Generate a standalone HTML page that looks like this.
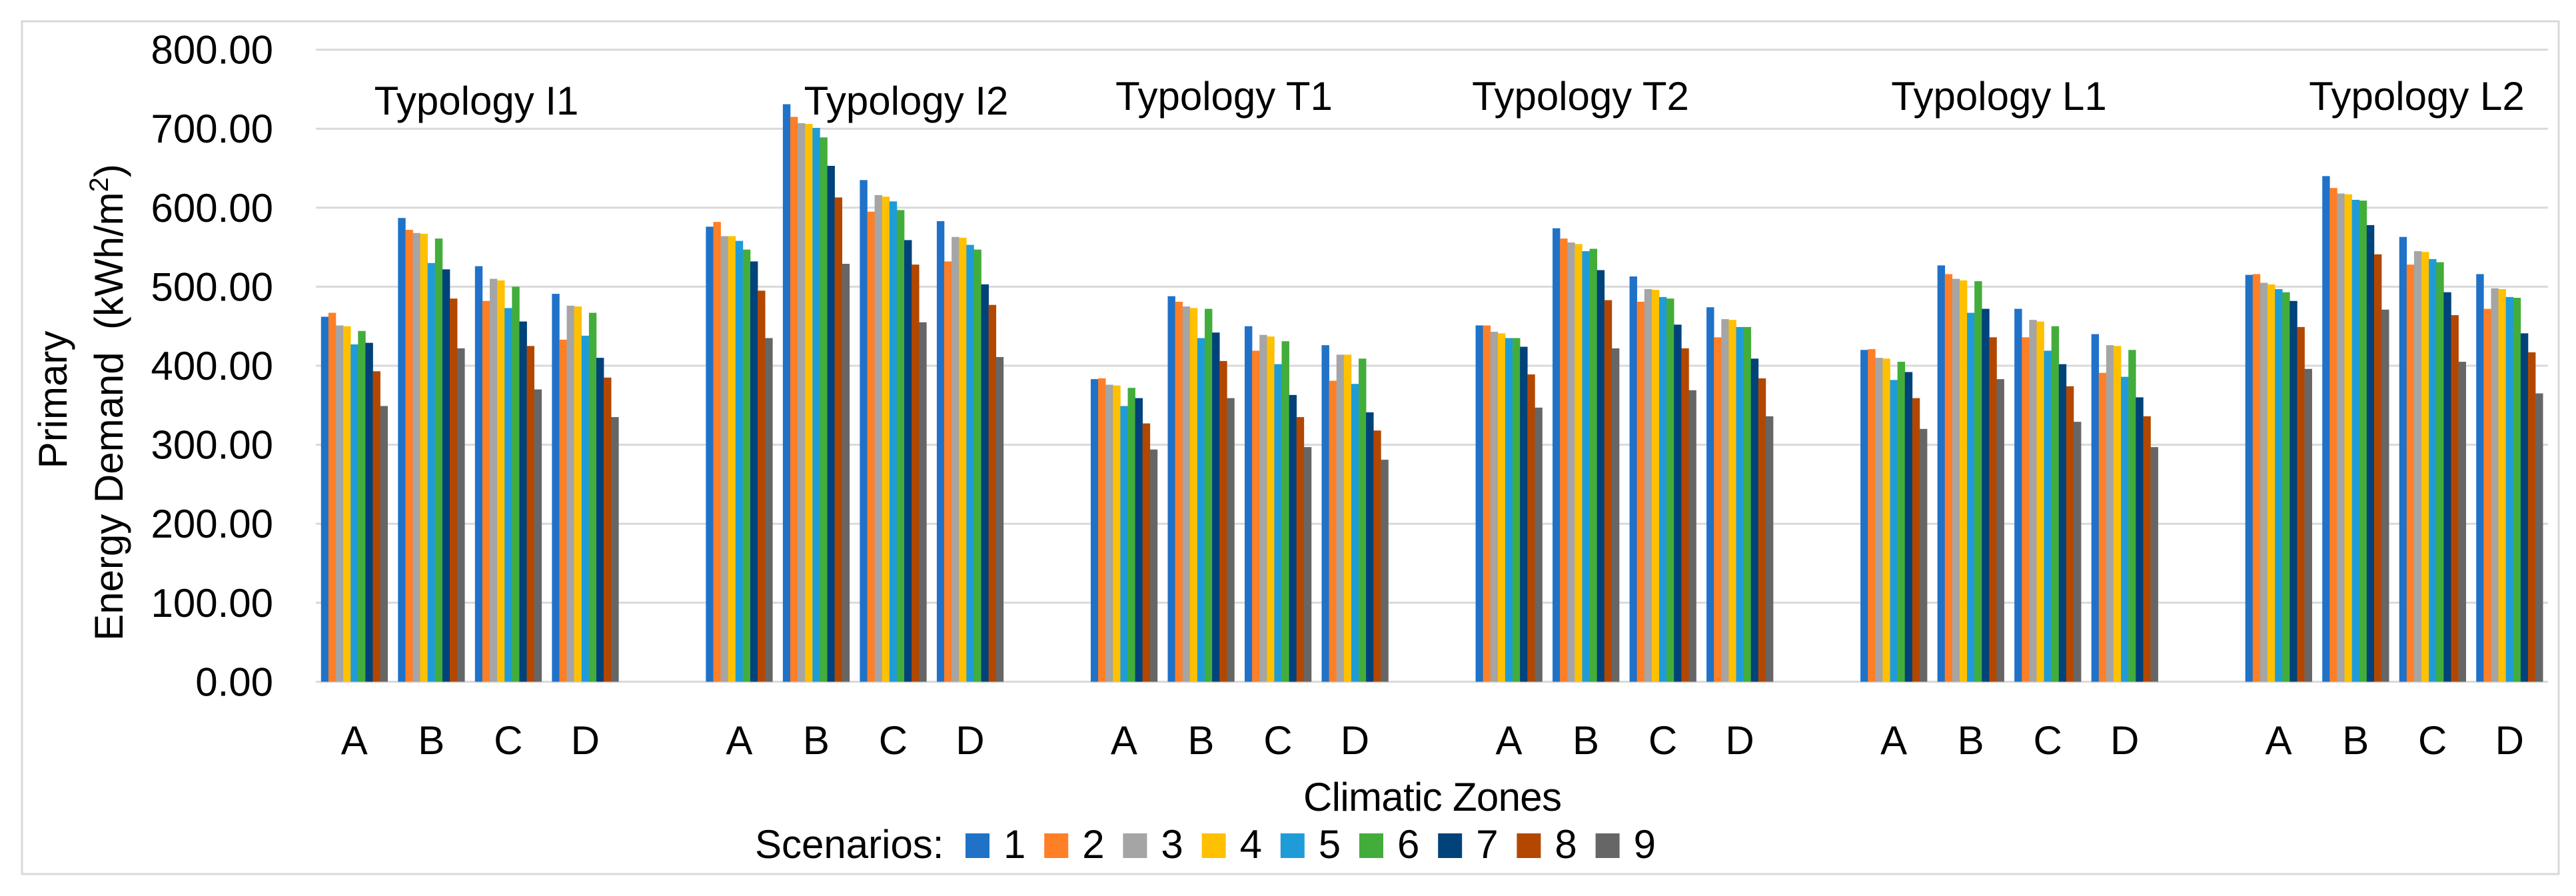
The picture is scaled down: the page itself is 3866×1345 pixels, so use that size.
<!DOCTYPE html>
<html><head><meta charset="utf-8"><style>
html,body{margin:0;padding:0;background:#fff;}
svg{display:block;font-family:"Liberation Sans",sans-serif;}
</style></head><body>
<svg id="chart" width="3866" height="1345" viewBox="0 0 3866 1345" xmlns="http://www.w3.org/2000/svg">
<rect x="33" y="32" width="3807" height="1280" fill="#fff" stroke="#d9d9d9" stroke-width="3"/>
<g id="grid"></g>
<g id="bars"></g>
<g id="labels"></g>
<text transform="translate(100,600) rotate(-90)" text-anchor="middle" font-size="60">Primary</text>
<text transform="translate(184,604) rotate(-90)" text-anchor="middle" font-size="60">Energy Demand&#160; (kWh/m<tspan font-size="40" dy="-22">2</tspan><tspan dy="22">)</tspan></text>
<text x="2150" y="1217" text-anchor="middle" font-size="60" textLength="388">Climatic Zones</text>
<g id="legend"></g>
</svg>
<script>
const typologies = ["Typology I1","Typology I2","Typology T1","Typology T2","Typology L1","Typology L2"];
const zones = ["A","B","C","D"];
const scenarios = ["1","2","3","4","5","6","7","8","9"];
const colors = ["#1f72c8","#ff7f27","#a5a5a5","#ffc000","#1f9cd8","#43ad3b","#00427a","#b34700","#666666"];
const yTicks = [0,100,200,300,400,500,600,700,800];
const I1 = [[462,467,451,450,427,444,429,393,349],[587,572,568,567,530,561,522,485,422],[526,482,510,508,473,500,456,425,370],[491,433,476,475,438,467,410,385,335]];
const I2 = [[576,582,564,564,558,547,532,495,435],[731,715,707,706,701,689,653,613,529],[635,595,616,614,608,597,559,528,455],[583,532,563,562,553,547,503,477,411]];
const T1 = [[383,384,376,375,349,372,359,327,294],[488,481,475,473,435,472,442,406,359],[450,419,439,437,402,431,363,335,297],[426,381,414,414,377,409,341,318,281]];
const T2 = [[451,451,443,441,435,435,424,389,347],[574,561,556,554,545,548,521,483,422],[513,481,497,496,487,485,452,422,369],[474,436,459,458,449,449,409,384,336]];
const L1 = [[420,421,410,409,382,405,392,359,320],[527,516,510,508,467,507,472,436,383],[472,436,458,456,419,450,402,374,329],[440,391,426,425,386,420,360,336,297]];
const L2 = [[515,516,505,503,497,493,482,449,396],[640,625,618,617,610,609,578,541,471],[563,528,545,544,535,531,493,464,405],[516,472,498,497,487,486,441,417,365]];
const values = [I1,I2,T1,T2,L1,L2];

const NS="http://www.w3.org/2000/svg";
const plotL=474, plotR=3824, y0=1023.4, y800=74.6;
const nSlots = typologies.length*5-1;
const pitch=(plotR-plotL)/nSlots;
const barW=pitch/(9+1.4);
function yScale(v){return y0-(v/800)*(y0-y800);}
function slotCenter(t,z){return plotL+(t*5+z+0.5)*pitch;}
function mk(tag,attrs,parent){const e=document.createElementNS(NS,tag);for(const k in attrs)e.setAttribute(k,attrs[k]);parent.appendChild(e);return e;}

const grid=document.getElementById('grid');
yTicks.forEach(v=>{
  const l=mk('line',{x1:plotL,x2:plotR,y1:yScale(v),y2:yScale(v),stroke:'#d9d9d9','stroke-width':3},grid);
  
  
  const t=mk('text',{x:410,y:yScale(v)+21,'text-anchor':'end','font-size':60},grid);
  t.textContent=v.toFixed(2);
  
  
});

const bars=document.getElementById('bars');
const labels=document.getElementById('labels');
values.forEach((typ,t)=>{
  typ.forEach((arr,z)=>{
    const cx=slotCenter(t,z);
    const start=cx-4.5*barW;
    arr.forEach((v,s)=>{
      const r=mk('rect',{x:start+s*barW,y:yScale(v),width:barW+0.3,height:y0-yScale(v),fill:colors[s]},bars);
      
      
    });
    const lt=mk('text',{x:cx,y:1132,'text-anchor':'middle','font-size':60},labels);
    lt.textContent=zones[z];
    
    
  });
});
const typX=[715,1360,1837,2372,3000,3627];
const typY=[172,172,165,165,165,165];
typologies.forEach((n,t)=>{
  const e=mk('text',{x:typX[t],y:typY[t],'text-anchor':'middle','font-size':60},labels);
  e.textContent=n;
  
  
});

const lg=document.getElementById('legend');
const lt0=mk('text',{x:1133,y:1288,'font-size':60},lg);
lt0.textContent='Scenarios:';


scenarios.forEach((s,i)=>{
  const x=1449+i*118.2;
  const r=mk('rect',{x:x,y:1251,width:36,height:37,fill:colors[i]},lg);
  
  
  const t=mk('text',{x:x+57,y:1288,'font-size':60},lg);
  t.textContent=s;
  
  
});
</script>
</body></html>
